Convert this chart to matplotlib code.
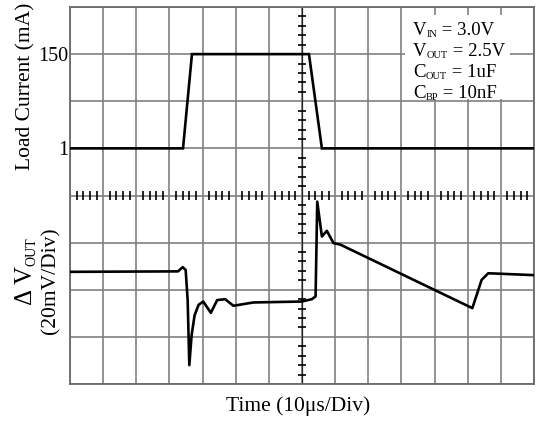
import numpy as np
import matplotlib
matplotlib.use("Agg")
import matplotlib.pyplot as plt
from matplotlib.patches import Rectangle
from matplotlib.transforms import IdentityTransform

plt.rcParams['font.family'] = ['Liberation Serif', 'DejaVu Serif']

# ---- data (time in divisions of 10 us, 0..14) ----
load_t = [0.0, 3.41, 3.68, 7.21, 7.60, 14.0]
load_mA = [1, 1, 150, 150, 1, 1]

vout_t = [0.0, 3.26, 3.40, 3.49, 3.55, 3.60, 3.67, 3.76, 3.88, 4.02, 4.25, 4.44,
          4.68, 4.93, 5.53, 6.99, 7.30, 7.41, 7.46, 7.60, 7.75, 7.95, 8.15,
          12.14, 12.42, 12.62, 14.0]
vout_div = [2.38, 2.39, 2.48, 2.42, 1.78, 0.40, 1.04, 1.46, 1.68, 1.75, 1.51, 1.78,
            1.80, 1.66, 1.73, 1.75, 1.80, 1.86, 3.87, 3.13, 3.25, 2.99, 2.96,
            1.61, 2.21, 2.35, 2.31]

current_ticks = [1, 150]
current_div = [5, 7]          # division rows where 1 mA and 150 mA sit
legend_main = ["V", "V", "C", "C"]
legend_sub = ["IN", "OUT", "OUT", "BP"]
legend_rest = [" = 3.0V", " = 2.5V", " = 1uF", " = 10nF"]

W, H = 536, 422
fig = plt.figure(figsize=(W / 100, H / 100), dpi=100)
L, R, T, B = 70, 534, 7, 384
ax = fig.add_axes([L / W, 1 - B / H, (R - L) / W, (B - T) / H])
ax.set_xlim(0, 14)
ax.set_ylim(0, 8)

gray = '#808080'
ax.set_xticks(np.arange(0, 15))
ax.set_yticks(np.arange(0, 9))
ax.set_xticklabels([])
labels = [''] * 9
for v, d in zip(current_ticks, current_div):
    labels[d] = str(v)
ax.set_yticklabels(labels, fontsize=14.5)
ax.tick_params(length=0, pad=1.5)
ax.grid(True, color=gray, lw=1.2)
ax.set_axisbelow(True)
for s in ax.spines.values():
    s.set_color('#6a6a6a')
    s.set_linewidth(1.3)

# centre cross with minor ticks
ax.axvline(7, color='#202020', lw=0.9, zorder=2)
minor_x = [k + 0.2 * j for k in range(14) for j in range(1, 5)]
minor_y = [k + 0.2 * j for k in range(8) for j in range(1, 5)]
ax.vlines(minor_x, 4 - 0.095, 4 + 0.095, color='black', lw=1.2, zorder=2)
ax.hlines(minor_y, 7 - 0.12, 7 + 0.12, color='black', lw=1.2, zorder=2)

# legend box
ax.add_patch(Rectangle((10.11, 6.05), 3.17, 1.78, facecolor='white',
                       edgecolor='none', zorder=3))

# traces
load_div = [5 + (v - 1) / 149 * 2 for v in load_mA]
ax.plot(load_t, load_div, color='black', lw=1.9, zorder=5, solid_joinstyle='miter')
ax.plot(vout_t, vout_div, color='black', lw=1.9, zorder=5)

fig.canvas.draw()
rend = fig.canvas.get_renderer()
ident = IdentityTransform()


def chain(pieces, x0, y0, vertical=False):
    """pieces: (text, fontsize, drop_px). x0,y0 in pixels from top-left."""
    px, py = x0, H - y0
    for s, size, drop in pieces:
        if vertical:
            t = fig.text(px + drop, py, s, fontsize=size, rotation=90,
                         rotation_mode='anchor', ha='left', va='baseline',
                         transform=ident, zorder=6)
            py += t.get_window_extent(rend).height
        else:
            t = fig.text(px, py - drop, s, fontsize=size, ha='left',
                         va='baseline', transform=ident, zorder=6)
            px += t.get_window_extent(rend).width


baselines = [35, 56, 77, 98]
for m, sb, rest, yb in zip(legend_main, legend_sub, legend_rest, baselines):
    chain([(m, 13.5, 0), (sb, 7.5, 2), (rest, 13.5, 0)], 413, yb)

# axis labels
fig.text(26 / W, 1 - 86 / H, 'Load Current (mA)', rotation=90, fontsize=15.5,
         ha='center', va='center')
chain([('Δ ', 18, 0), ('V', 18, 0), ('OUT', 10, 3)], 32, 305, vertical=True)
fig.text(51 / W, 1 - 227 / H, '(20mV/Div)', rotation=90, fontsize=15.5,
         ha='center', va='top')
fig.text(298.5 / W, 1 - 406 / H, 'Time (10μs/Div)', fontsize=15.5,
         ha='center', va='center')

fig.savefig('out.png', dpi=100)
